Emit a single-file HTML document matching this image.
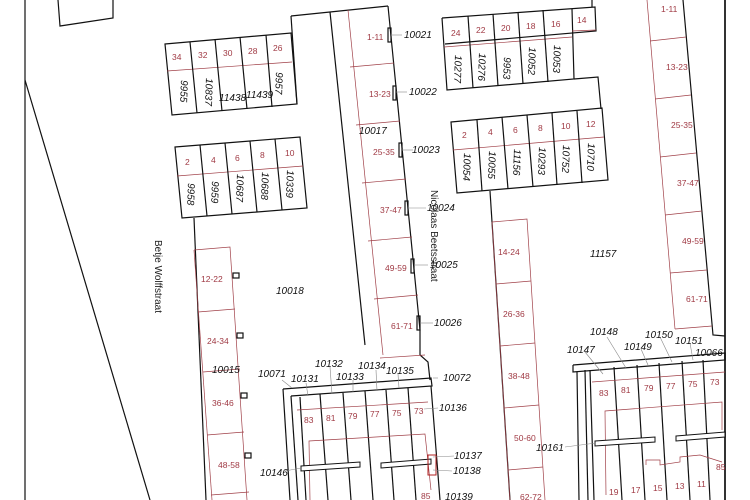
<!DOCTYPE html>
<html><head><meta charset="utf-8"><style>
html,body{margin:0;padding:0;background:#fff;}
svg{display:block;}
.k{fill:none;stroke:#111;stroke-width:1.2}
.r{fill:none;stroke:#a04048;stroke-width:0.7}
.g{fill:none;stroke:#888;stroke-width:0.6}
text{font-family:"Liberation Sans",sans-serif;}
.n{font-size:10px;font-style:italic;fill:#111}
.h{font-size:8.5px;fill:#a03a44}
.s{font-size:10px;fill:#222}
</style></head><body>
<svg width="750" height="500" viewBox="0 0 750 500" xmlns="http://www.w3.org/2000/svg">
<rect width="750" height="500" fill="#fff"/>
<line x1="25" y1="0" x2="25" y2="500" class="k"/>
<line x1="25" y1="80" x2="150" y2="500" class="k"/>
<line x1="725" y1="0" x2="725" y2="500" stroke="#333" stroke-width="2"/>
<polyline points="58,0 60,26 113,18 113,0" class="k"/>

<polygon points="165,44 291,33 297,104 172,115" class="k"/>
<polyline points="167,71 292,62" class="r"/>
<g class="k"><line x1="190" y1="42" x2="197" y2="113"/><line x1="215" y1="39" x2="222" y2="111"/><line x1="240" y1="37" x2="247" y2="109"/><line x1="266" y1="35" x2="272" y2="107"/></g>
<text class="h" x="172" y="60">34</text><text class="h" x="198" y="58">32</text><text class="h" x="223" y="56">30</text><text class="h" x="248" y="54">28</text><text class="h" x="273" y="51">26</text>
<text class="n" transform="translate(181,80) rotate(92)">9955</text>
<text class="n" transform="translate(206,78) rotate(92)">10837</text>
<text class="n" x="219" y="101">11438</text><text class="n" x="246" y="98">11439</text>
<text class="n" transform="translate(276,72) rotate(92)">9957</text>
<polygon points="175,147 300,137 307,208 182,218" class="k"/>
<polyline points="177,176 303,166" class="r"/>
<g class="k"><line x1="200" y1="145" x2="207" y2="216"/><line x1="225" y1="143" x2="232" y2="214"/><line x1="250" y1="141" x2="257" y2="212"/><line x1="275" y1="139" x2="282" y2="210"/></g>
<text class="h" x="185" y="165">2</text><text class="h" x="211" y="163">4</text><text class="h" x="235" y="161">6</text><text class="h" x="260" y="158">8</text><text class="h" x="285" y="156">10</text>
<text class="n" transform="translate(188,183) rotate(92)">9958</text>
<text class="n" transform="translate(212,181) rotate(92)">9959</text>
<text class="n" transform="translate(237,174) rotate(92)">10687</text>
<text class="n" transform="translate(262,172) rotate(92)">10688</text>
<text class="n" transform="translate(287,170) rotate(92)">10339</text>

<polyline points="291,16 330,12 388,6" class="k"/>
<line x1="291" y1="16" x2="297" y2="104" class="k"/>
<line x1="330" y1="12" x2="365" y2="345" class="k"/>
<line x1="194" y1="218" x2="206" y2="500" class="k"/>
<line x1="348" y1="10" x2="383" y2="355" class="r"/>
<polyline points="388,6 420,330 420,355 428,362 430,380" class="k"/>
<g class="r"><line x1="350" y1="67" x2="394" y2="63"/><line x1="356" y1="125" x2="400" y2="121"/><line x1="362" y1="183" x2="406" y2="179"/><line x1="368" y1="241" x2="412" y2="237"/><line x1="374" y1="299" x2="418" y2="295"/><line x1="380" y1="358" x2="425" y2="355"/></g>
<g class="k"><rect x="388" y="28" width="3" height="14"/><rect x="393" y="86" width="3" height="14"/><rect x="399" y="143" width="3" height="14"/><rect x="405" y="201" width="3" height="14"/><rect x="411" y="259" width="3" height="14"/><rect x="417" y="316" width="3" height="14"/></g>
<g class="g"><line x1="391" y1="35" x2="402" y2="35"/><line x1="396" y1="92" x2="407" y2="92"/><line x1="402" y1="150" x2="413" y2="150"/><line x1="408" y1="208" x2="426" y2="208"/><line x1="414" y1="265" x2="428" y2="265"/><line x1="420" y1="323" x2="433" y2="323"/></g>
<text class="h" x="367" y="40">1-11</text><text class="h" x="369" y="97">13-23</text><text class="h" x="373" y="155">25-35</text><text class="h" x="380" y="213">37-47</text><text class="h" x="385" y="271">49-59</text><text class="h" x="391" y="329">61-71</text>
<text class="n" x="404" y="38">10021</text><text class="n" x="409" y="95">10022</text><text class="n" x="412" y="153">10023</text><text class="n" x="427" y="211">10024</text><text class="n" x="430" y="268">10025</text><text class="n" x="434" y="326">10026</text>
<text class="n" x="359" y="134">10017</text>
<text class="s" transform="translate(431,190) rotate(90)">Nicolaas Beetsstraat</text>
<text class="s" transform="translate(155,240) rotate(90)">Betje Wolffstraat</text>
<text class="n" x="276" y="294">10018</text>

<polyline points="194,250 230,247 247,500" class="r"/>
<line x1="194" y1="250" x2="212" y2="500" class="r"/>
<g class="r"><line x1="198" y1="312" x2="235" y2="309"/><line x1="203" y1="372" x2="240" y2="369"/><line x1="207" y1="435" x2="244" y2="432"/><line x1="211" y1="495" x2="249" y2="492"/></g>
<g class="k"><rect x="233" y="273" width="6" height="5"/><rect x="237" y="333" width="6" height="5"/><rect x="241" y="393" width="6" height="5"/><rect x="245" y="453" width="6" height="5"/></g>
<text class="h" x="201" y="282">12-22</text><text class="h" x="207" y="344">24-34</text><text class="h" x="212" y="406">36-46</text><text class="h" x="218" y="468">48-58</text>
<text class="n" x="212" y="373">10015</text>

<polyline points="442,18 595,7 596,31 445,44" class="k"/>
<polyline points="442,18 447,90 574,79 572,9" class="k"/>
<line x1="592" y1="0" x2="592" y2="7" class="k"/>
<line x1="572" y1="31" x2="596" y2="30" class="r"/>
<line x1="444" y1="47" x2="572" y2="37" class="r"/>
<g class="k"><line x1="468" y1="16" x2="473" y2="88"/><line x1="493" y1="14" x2="498" y2="86"/><line x1="518" y1="12" x2="523" y2="84"/><line x1="543" y1="10" x2="548" y2="82"/></g>
<text class="h" x="451" y="36">24</text><text class="h" x="476" y="33">22</text><text class="h" x="501" y="31">20</text><text class="h" x="526" y="29">18</text><text class="h" x="551" y="27">16</text><text class="h" x="577" y="23">14</text>
<text class="n" transform="translate(455,55) rotate(92)">10277</text>
<text class="n" transform="translate(479,53) rotate(92)">10276</text>
<text class="n" transform="translate(504,57) rotate(92)">9953</text>
<text class="n" transform="translate(529,47) rotate(92)">10052</text>
<text class="n" transform="translate(554,45) rotate(92)">10053</text>
<polyline points="574,79 598,77 601,109" class="k"/>
<polygon points="451,122 602,108 608,180 457,193" class="k"/>
<line x1="453" y1="150" x2="604" y2="137" class="r"/>
<g class="k"><line x1="477" y1="120" x2="482" y2="191"/><line x1="502" y1="117" x2="508" y2="189"/><line x1="527" y1="115" x2="533" y2="187"/><line x1="552" y1="113" x2="557" y2="185"/><line x1="577" y1="111" x2="582" y2="183"/></g>
<text class="h" x="462" y="138">2</text><text class="h" x="488" y="135">4</text><text class="h" x="513" y="133">6</text><text class="h" x="538" y="131">8</text><text class="h" x="561" y="129">10</text><text class="h" x="586" y="127">12</text>
<text class="n" transform="translate(464,153) rotate(92)">10054</text>
<text class="n" transform="translate(489,151) rotate(92)">10055</text>
<text class="n" transform="translate(514,149) rotate(92)">11156</text>
<text class="n" transform="translate(539,147) rotate(92)">10293</text>
<text class="n" transform="translate(563,145) rotate(92)">10752</text>
<text class="n" transform="translate(588,143) rotate(92)">10710</text>
<line x1="490" y1="191" x2="510" y2="500" class="k"/>
<polyline points="492,222 527,219 545,500" class="r"/>
<line x1="492" y1="222" x2="510" y2="500" class="r"/>
<g class="r"><line x1="496" y1="284" x2="531" y2="281"/><line x1="500" y1="346" x2="535" y2="343"/><line x1="504" y1="408" x2="539" y2="405"/><line x1="508" y1="470" x2="543" y2="467"/></g>
<text class="h" x="498" y="255">14-24</text><text class="h" x="503" y="317">26-36</text><text class="h" x="508" y="379">38-48</text><text class="h" x="514" y="441">50-60</text><text class="h" x="520" y="500">62-72</text>
<text class="n" x="590" y="257">11157</text>

<line x1="647" y1="0" x2="675" y2="329" class="r"/>
<polyline points="683,0 713,335 725,336" class="k"/>
<g class="r"><line x1="650" y1="41" x2="686" y2="37"/><line x1="655" y1="99" x2="691" y2="95"/><line x1="660" y1="157" x2="696" y2="153"/><line x1="665" y1="215" x2="702" y2="211"/><line x1="670" y1="273" x2="707" y2="270"/><line x1="675" y1="329" x2="712" y2="326"/></g>
<text class="h" x="661" y="12">1-11</text><text class="h" x="666" y="70">13-23</text><text class="h" x="671" y="128">25-35</text><text class="h" x="677" y="186">37-47</text><text class="h" x="682" y="244">49-59</text><text class="h" x="686" y="302">61-71</text>

<polyline points="283,389 431,378 432,386 291,396" class="k"/>
<line x1="283" y1="389" x2="290" y2="500" class="k"/>
<line x1="291" y1="396" x2="298" y2="500" class="k"/>
<line x1="300" y1="397" x2="306" y2="500" class="k"/>
<line x1="431" y1="386" x2="440" y2="500" class="k"/>
<g class="k"><line x1="320" y1="394" x2="328" y2="500"/><line x1="343" y1="393" x2="351" y2="500"/><line x1="365" y1="391" x2="373" y2="500"/><line x1="386" y1="390" x2="394" y2="500"/><line x1="408" y1="388" x2="416" y2="500"/></g>
<polyline points="297,410 428,402" class="r"/>
<polyline points="310,500 309,441 425,434 431,490" class="r"/>
<polygon points="301,466 360,462 360,467 301,471" fill="#fff" stroke="#111"/>
<polygon points="381,463 431,459 431,464 381,468" fill="#fff" stroke="#111"/>
<rect x="428" y="455" width="8" height="20" fill="none" stroke="#b02020" stroke-width="1"/>
<text class="h" x="304" y="423">83</text><text class="h" x="326" y="421">81</text><text class="h" x="348" y="419">79</text><text class="h" x="370" y="417">77</text><text class="h" x="392" y="416">75</text><text class="h" x="414" y="414">73</text><text class="h" x="421" y="499">85</text>
<g class="g"><line x1="282" y1="380" x2="292" y2="388"/><line x1="306" y1="383" x2="308" y2="396"/><line x1="330" y1="367" x2="332" y2="394"/><line x1="353" y1="380" x2="353" y2="392"/><line x1="376" y1="370" x2="377" y2="391"/><line x1="398" y1="374" x2="399" y2="388"/><line x1="433" y1="378" x2="438" y2="378"/><line x1="424" y1="409" x2="438" y2="408"/><line x1="433" y1="457" x2="454" y2="456"/><line x1="433" y1="470" x2="452" y2="471"/><line x1="285" y1="471" x2="301" y2="468"/></g>
<text class="n" x="258" y="377">10071</text><text class="n" x="291" y="382">10131</text><text class="n" x="315" y="367">10132</text><text class="n" x="336" y="380">10133</text><text class="n" x="358" y="369">10134</text><text class="n" x="386" y="374">10135</text>
<text class="n" x="443" y="381">10072</text><text class="n" x="439" y="411">10136</text><text class="n" x="454" y="459">10137</text><text class="n" x="453" y="474">10138</text><text class="n" x="260" y="476">10146</text><text class="n" x="445" y="500">10139</text>

<polyline points="573,365 725,353 725,360 573,372 573,365" class="k"/>
<line x1="577" y1="372" x2="579" y2="500" class="k"/>
<line x1="585" y1="370" x2="588" y2="500" class="k"/>
<line x1="590" y1="370" x2="594" y2="500" class="k"/>
<g class="k"><line x1="614" y1="367" x2="622" y2="500"/><line x1="637" y1="365" x2="645" y2="500"/><line x1="659" y1="363" x2="667" y2="500"/><line x1="682" y1="361" x2="690" y2="500"/><line x1="703" y1="360" x2="710" y2="500"/></g>
<polyline points="592,382 725,372" class="r"/>
<polyline points="606,495 605,411 722,402 722,430" class="r"/>
<polygon points="595,441 655,437 655,442 595,446" fill="#fff" stroke="#111"/>
<polygon points="676,436 725,432 725,437 676,441" fill="#fff" stroke="#111"/>
<polyline points="646,465 646,460 660,460 660,465 680,462 680,457 690,456 700,455 722,462" class="r"/>
<text class="h" x="599" y="396">83</text><text class="h" x="621" y="393">81</text><text class="h" x="644" y="391">79</text><text class="h" x="666" y="389">77</text><text class="h" x="688" y="387">75</text><text class="h" x="710" y="385">73</text>
<text class="h" x="609" y="495">19</text><text class="h" x="631" y="493">17</text><text class="h" x="653" y="491">15</text><text class="h" x="675" y="489">13</text><text class="h" x="697" y="487">11</text><text class="h" x="716" y="470">85</text>
<g class="g"><line x1="585" y1="352" x2="603" y2="374"/><line x1="607" y1="337" x2="626" y2="368"/><line x1="641" y1="349" x2="648" y2="365"/><line x1="660" y1="337" x2="672" y2="362"/><line x1="690" y1="343" x2="693" y2="360"/><line x1="565" y1="447" x2="596" y2="443"/></g>
<text class="n" x="567" y="353">10147</text><text class="n" x="590" y="335">10148</text><text class="n" x="624" y="350">10149</text><text class="n" x="645" y="338">10150</text><text class="n" x="675" y="344">10151</text><text class="n" x="695" y="356">10066</text><text class="n" x="536" y="451">10161</text>
</svg>
</body></html>
